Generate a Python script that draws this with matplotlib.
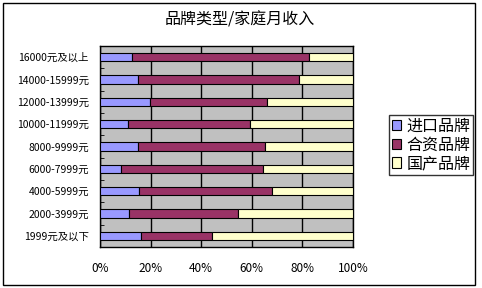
import numpy as np
import matplotlib
matplotlib.use("Agg")
import matplotlib.pyplot as plt
from matplotlib.patches import Rectangle

plt.rcParams['font.family'] = ['Noto Sans CJK SC', 'DejaVu Sans']

# income groups, top to bottom as in the chart
categories = ["16000元及以上", "14000-15999元", "12000-13999元", "10000-11999元",
              "8000-9999元", "6000-7999元", "4000-5999元", "2000-3999元", "1999元及以下"]
series_names = ["进口品牌", "合资品牌", "国产品牌"]
imported = [12.5, 14.9, 19.7, 11.1, 14.9, 8.2, 15.3, 11.3, 16.1]
joint = [70.1, 63.7, 46.3, 48.1, 50.3, 56.2, 52.6, 43.2, 28.1]
domestic = [17.4, 21.4, 34.0, 40.8, 34.8, 35.6, 32.1, 45.5, 55.8]
xticks = [0, 20, 40, 60, 80, 100]
xtick_labels = ["0%", "20%", "40%", "60%", "80%", "100%"]

colors = ["#9999FF", "#993366", "#FFFFCC"]

fig = plt.figure(figsize=(4.82, 2.88), dpi=100)
fig.patches.append(Rectangle((3 / 482, 3 / 288), 472 / 482, 282 / 288, transform=fig.transFigure,
                             fill=False, edgecolor="black", linewidth=1))

ax = fig.add_axes([100 / 482, 1 - 247 / 288, 253 / 482, 201 / 288])
ax.set_facecolor("#C0C0C0")

y = np.arange(len(categories))
left = np.zeros(len(categories))
for vals, name, c in zip([imported, joint, domestic], series_names, colors):
    ax.barh(y, vals, left=left, height=0.38, color=c, edgecolor="black", linewidth=0.8,
            label=name, zorder=3)
    left = left + np.array(vals)

ax.set_xlim(0, 100)
ax.set_ylim(len(categories) - 0.5, -0.5)
ax.set_xticks(xticks)
ax.set_xticklabels(xtick_labels, fontsize=8.5)
ax.set_yticks(y)
ax.set_yticklabels(categories, fontsize=7.5)
ax.set_yticks(np.arange(len(categories) + 1) - 0.5, minor=True)
ax.tick_params(axis="y", which="major", length=0, pad=8)
ax.tick_params(axis="y", which="minor", length=3, direction="in")
ax.tick_params(axis="x", length=0, pad=11)
ax.grid(axis="x", color="black", linewidth=1, zorder=1)
for s in ax.spines.values():
    s.set_color("black")
    s.set_linewidth(1)

fig.text(240 / 482, 1 - 20 / 288, "品牌类型/家庭月收入", ha="center", va="center", fontsize=11.5)

leg = fig.legend(loc="center", bbox_to_anchor=(431 / 482, 1 - 145 / 288), fontsize=11.5,
                 frameon=True, fancybox=False, edgecolor="black", handlelength=0.6,
                 handleheight=0.6, handletextpad=0.3, labelspacing=0.1, borderpad=0.2,
                 borderaxespad=0)
leg.get_frame().set_linewidth(1)

fig.savefig("out.png", dpi=100)
